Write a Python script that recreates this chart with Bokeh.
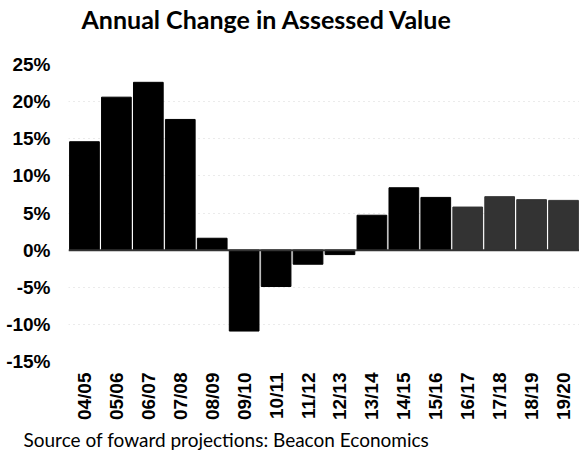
import math
from bokeh.plotting import figure
from bokeh.models import ColumnDataSource, Range1d, FixedTicker, PrintfTickFormatter, Span, Title
from bokeh.embed import file_html
from bokeh.resources import INLINE

years = ["04/05", "05/06", "06/07", "07/08", "08/09", "09/10", "10/11", "11/12",
         "12/13", "13/14", "14/15", "15/16", "16/17", "17/18", "18/19", "19/20"]
change_pct = [14.6, 20.6, 22.6, 17.6, 1.6, -10.9, -4.9, -1.9,
              -0.6, 4.7, 8.4, 7.1, 5.8, 7.2, 6.8, 6.7]
kind = ["actual"] * 12 + ["projected"] * 4
y_ticks = [-15, -10, -5, 0, 5, 10, 15, 20, 25]
title_text = "Annual Change in Assessed Value"
source_note = "Source of foward projections:  Beacon Economics"

palette = {"actual": "#000000", "projected": "#333333"}
colors = [palette[k] for k in kind]

src = ColumnDataSource(dict(x=years, top=change_pct, color=colors))

p = figure(x_range=years, y_range=Range1d(-15, 25), width=579, height=452,
           output_backend="svg", toolbar_location=None, title=None,
           min_border_left=68, min_border_right=0, min_border_top=64, min_border_bottom=90)
p.outline_line_color = None

p.vbar(x="x", top="top", bottom=0, width=0.93, color="color", source=src)

p.add_layout(Span(location=0, dimension="width", line_color="#333333", line_width=2))

# axes
p.xgrid.grid_line_color = None
p.ygrid.grid_line_color = "#c4c4c4"
p.ygrid.grid_line_dash = "1 4"
p.ygrid.grid_line_alpha = 0.7
p.yaxis.ticker = FixedTicker(ticks=y_ticks)
p.yaxis.formatter = PrintfTickFormatter(format="%d%%")
for ax in (p.xaxis, p.yaxis):
    ax.axis_line_color = None
    ax.major_tick_line_color = None
    ax.minor_tick_line_color = None
    ax.major_tick_out = 0
    ax.major_tick_in = 0
    ax.major_label_text_font = "Liberation Sans"
    ax.major_label_text_font_style = "bold"
    ax.major_label_text_color = "#000000"
p.yaxis.major_label_text_font_size = "19px"
p.yaxis.major_label_standoff = 18
p.xaxis.major_label_text_font_size = "19px"
p.xaxis.major_label_orientation = math.pi / 2
p.xaxis.major_label_standoff = 11

# spacer between frame and title, then the title itself
spacer = Title(text="\u00a0", text_font_size="1px", standoff=28)
p.add_layout(spacer, "above")
main_title = Title(text=title_text, text_font="Lato", text_font_style="bold",
                   text_font_size="25px", text_color="#000000", align="left",
                   offset=13, standoff=0)
p.add_layout(main_title, "above")

foot = Title(text=source_note, text_font="Lato", text_font_style="normal",
             text_font_size="19px", text_color="#000000", align="left",
             offset=-45, standoff=4)
p.add_layout(foot, "below")

open("out.html", "w").write(file_html(p, INLINE))
